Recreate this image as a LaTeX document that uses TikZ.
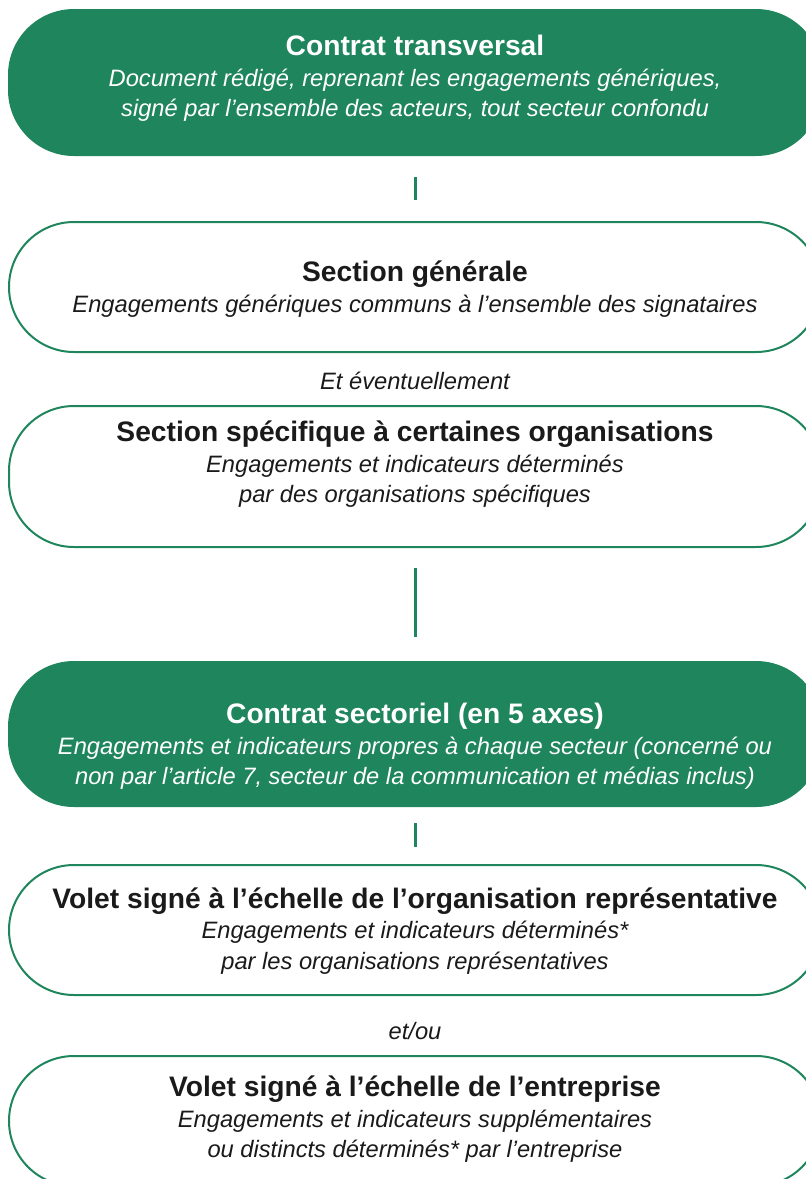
\documentclass[tikz,border=0pt]{standalone}
\usepackage{fontspec}
\setmainfont{Liberation Sans}
\usetikzlibrary{positioning}
\definecolor{vert}{RGB}{30,133,92}
\definecolor{encre}{RGB}{26,26,26}
\newcommand{\titre}[1]{{\fontsize{28.2}{30.5}\selectfont\upshape\bfseries #1}}

\begin{document}
\begin{tikzpicture}[x=1pt,y=-1pt,
		boite/.style={draw=vert,line width=2pt,rounded corners=65pt,minimum width=812pt,inner sep=0pt},
		plein/.style={boite,fill=vert},
		texte/.style={align=center,inner sep=0pt,text=encre,font=\fontsize{23.7}{30.5}\selectfont\itshape},
		blanc/.style={texte,text=white},
		lien/.style={draw=vert,line width=3pt}]
	\useasboundingbox (0,0) rectangle (806,1179);
	% boites
	\node[plein,minimum height=145pt] at (415,82.5) (b_1) {};
	\node[boite,minimum height=130pt] at (415,287) (b_2) {};
	\node[boite,minimum height=141pt] at (415,476.5) (b_3) {};
	\node[plein,minimum height=144pt] at (415,734) (b_4) {};
	\node[boite,minimum height=130pt] at (415,930) (b_5) {};
	\node[boite,minimum height=130pt] at (415,1121) (b_6) {};
	% textes
	\node[blanc] at (415,78.5) (t_1) {\titre{Contrat transversal}\\
		Document rédigé, reprenant les engagements génériques,\\
		signé par l’ensemble des acteurs, tout secteur confondu};
	\node[texte] at (415,289) (t_2) {\titre{Section générale}\\
		Engagements génériques communs à l’ensemble des signataires};
	\node[texte] at (415,381) (et) {Et éventuellement};
	\node[texte] at (415,464.5) (t_3) {\titre{Section spécifique à certaines organisations}\\
		Engagements et indicateurs déterminés\\
		par des organisations spécifiques};
	\node[blanc] at (415,746.5) (t_4) {\titre{Contrat sectoriel (en 5 axes)}\\
		Engagements et indicateurs propres à chaque secteur (concerné ou\\
		non par l’article 7, secteur de la communication et médias inclus)};
	\node[texte] at (415,931) (t_5) {\titre{Volet signé à l’échelle de l’organisation représentative}\\
		Engagements et indicateurs déterminés*\\
		par les organisations représentatives};
	\node[texte] at (415,1031) (ou) {et/ou};
	\node[texte] at (415,1119.5) (t_6) {\titre{Volet signé à l’échelle de l’entreprise}\\
		Engagements et indicateurs supplémentaires\\
		ou distincts déterminés* par l’entreprise};
	% liens
	\path[lien]
		(b_1) edge [shorten <=21pt,shorten >=21pt] (b_2)
		(b_3) edge [shorten <=20pt,shorten >=24pt] (b_4)
		(b_4) edge [shorten <=16pt,shorten >=17pt] (b_5);
\end{tikzpicture}
\end{document}
